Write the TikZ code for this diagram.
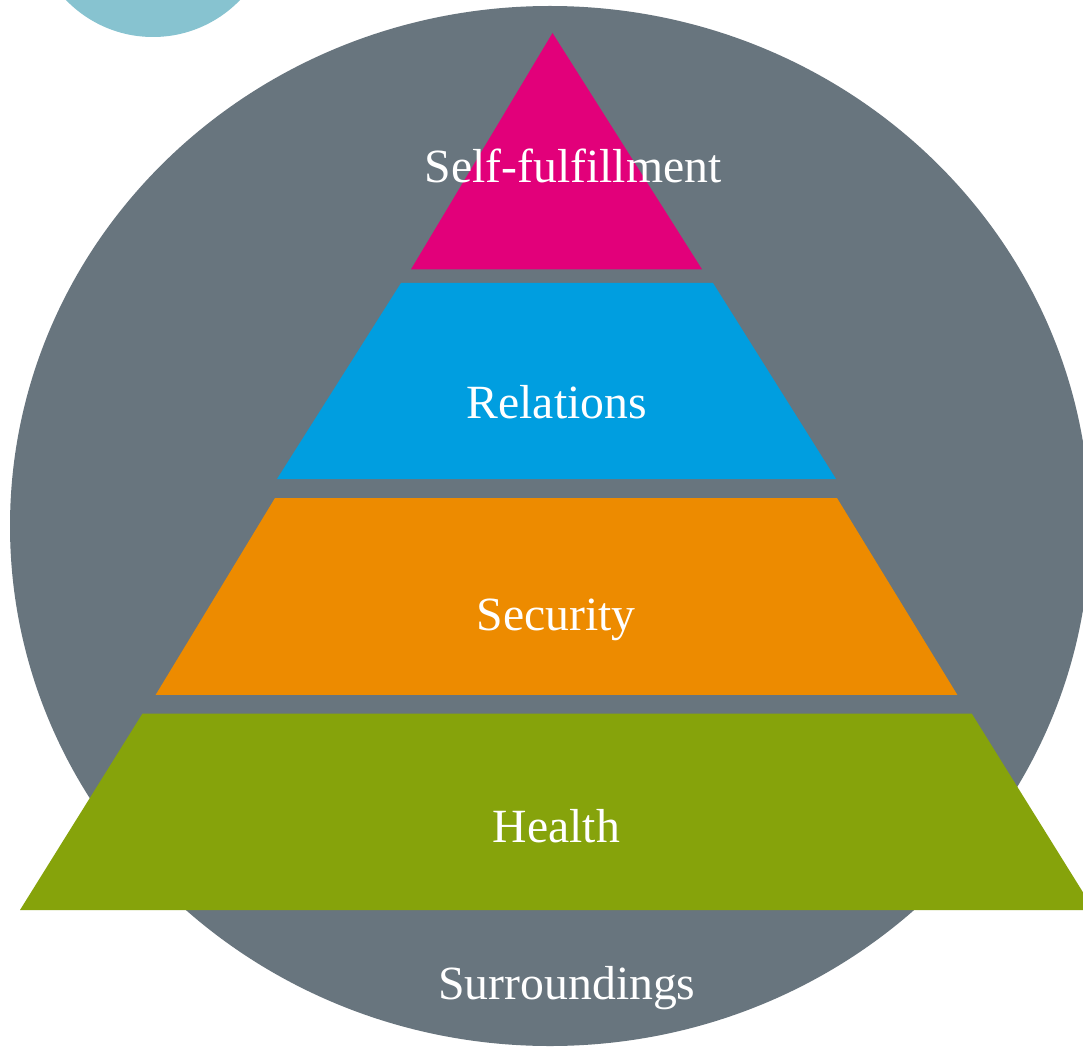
\documentclass[tikz,border=0pt]{standalone}
\usepackage{fontspec}
\setmainfont{Liberation Serif}
\definecolor{ringgray}{HTML}{68757E}
\definecolor{dotblue}{HTML}{87C3D0}
\definecolor{tiermagenta}{HTML}{E2007A}
\definecolor{tierblue}{HTML}{009EE0}
\definecolor{tierorange}{HTML}{ED8B00}
\definecolor{tiergreen}{HTML}{86A30B}
\begin{document}
\begin{tikzpicture}[x=1pt,y=-1pt,
  tier/.style={draw=none},
  label/.style={anchor=base,text=white,inner sep=0pt,
    font=\fontsize{47.7}{57}\selectfont}]
\useasboundingbox (0,0) rectangle (1083,1048);
\clip (0,0) rectangle (1083,1048);
\fill[white] (0,0) rectangle (1083,1048);
% decorative circles
\fill[dotblue] (153,-84) circle[radius=121];
\fill[ringgray] (550,526) ellipse[x radius=540,y radius=520];
% pyramid tiers
\fill[tier,tiermagenta] (552.5,33) -- (702,269.3) -- (411,269.3) -- cycle;
\fill[tier,tierblue] (401,283) -- (713,283) -- (836,479) -- (277,479) -- cycle;
\fill[tier,tierorange] (275,498) -- (837,498) -- (957.3,694.8) -- (155.7,694.8) -- cycle;
\fill[tier,tiergreen] (142.5,713.5) -- (971.7,713.5) -- (1094,910) -- (20,910) -- cycle;
% tier labels
\node[label] (self) at (573,182.7) {Self-fulfillment};
\node[label] (rel) at (556.7,418.3) {Relations};
\node[label] (sec) at (556,630) {Security};
\node[label] (health) at (556.5,842.3) {Health};
\node[label] (surr) at (567,999.3) {Surroundings};
\end{tikzpicture}
\end{document}
